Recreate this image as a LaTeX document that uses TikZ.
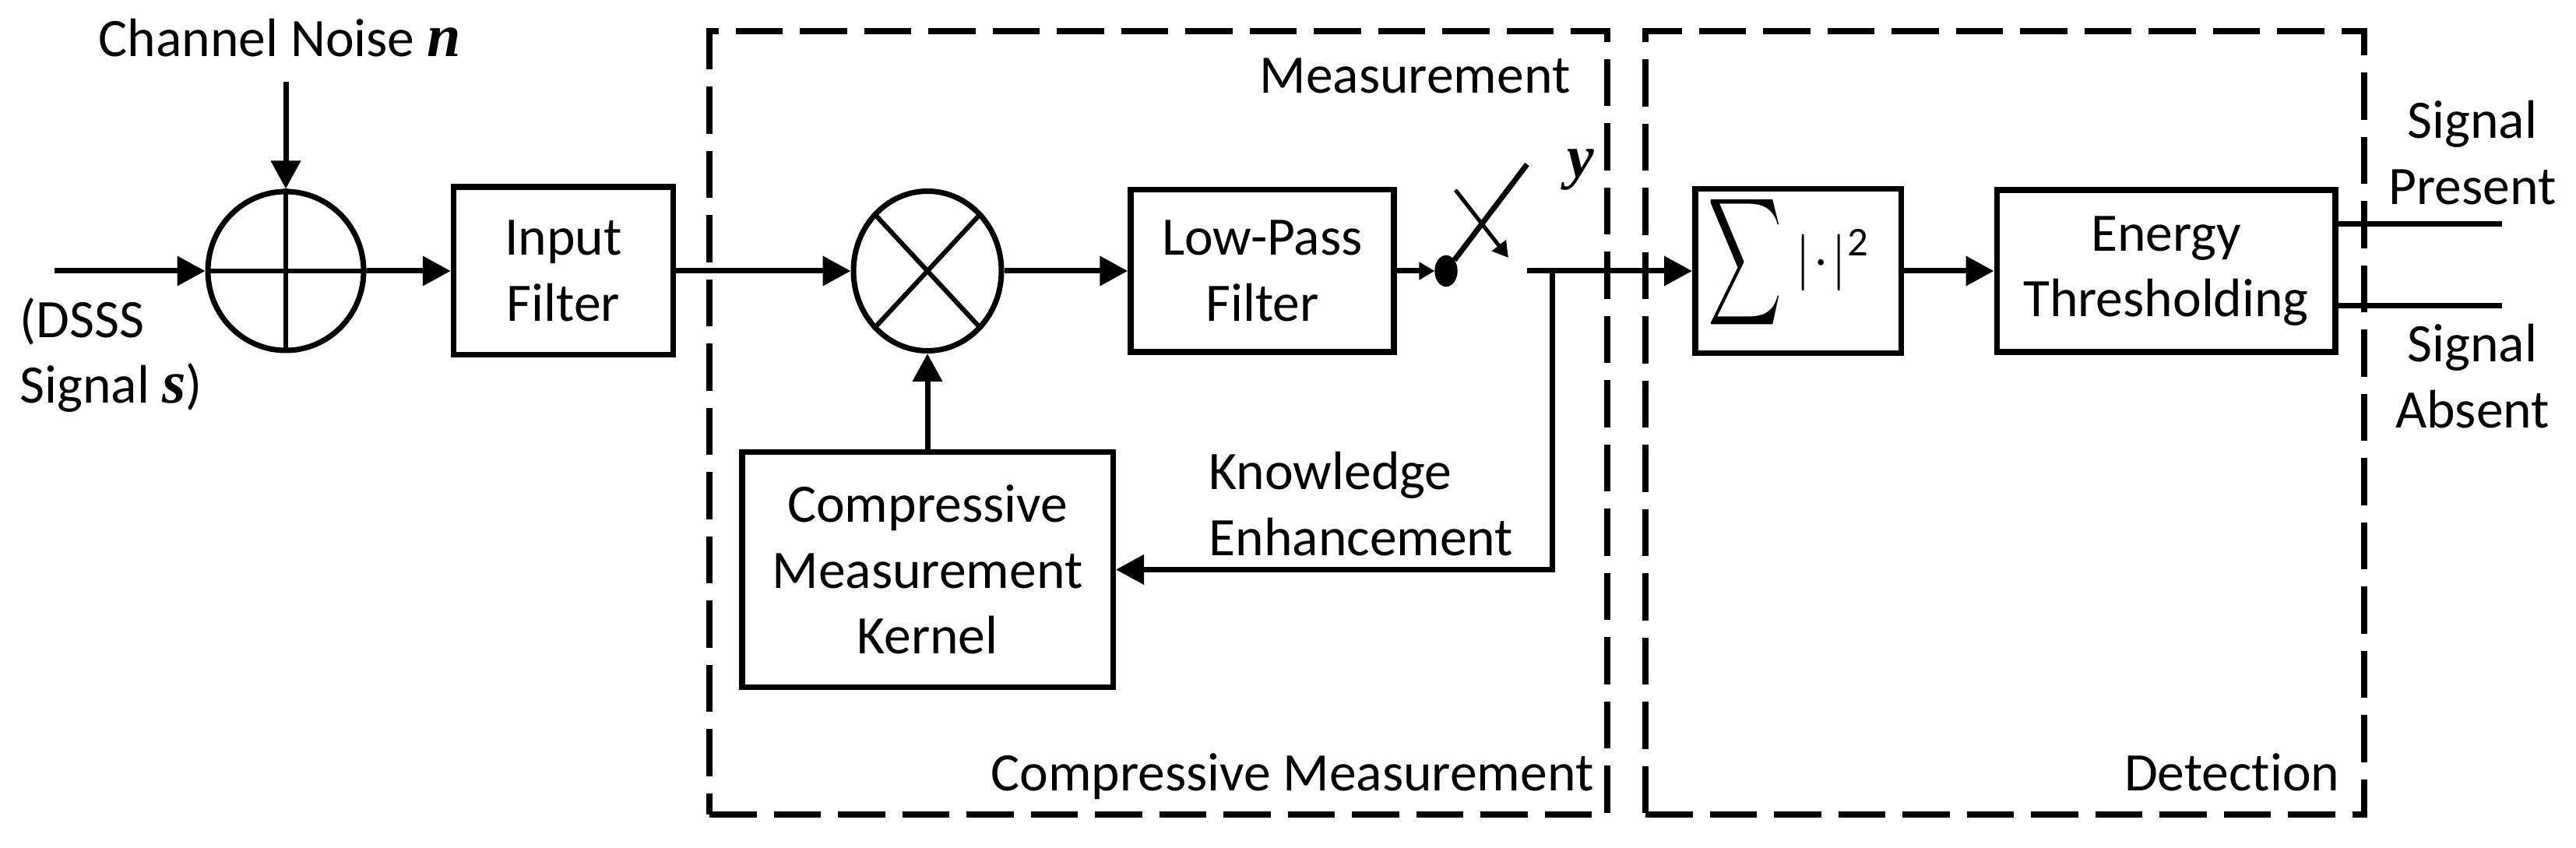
\documentclass[tikz,border=0pt]{standalone}
\usepackage{fontspec}
\usepackage{tikz}
\usetikzlibrary{arrows.meta,positioning,shapes.geometric}
\setmainfont[Ligatures=NoCommon]{Carlito}
\newfontfamily\varfont[Scale=1.12]{Liberation Serif}
\newcommand{\sigvar}[1]{{\varfont\bfseries\itshape #1}}
\tikzset{
  block/.style={draw=black,fill=none,line width=0.075cm,rectangle,align=center,
                inner sep=0pt,font=\fontsize{19.8}{24}\selectfont},
  junction/.style={draw=black,line width=0.07cm,ellipse,inner sep=0pt},
  region/.style={draw=black,line width=0.075cm,rectangle,inner sep=0pt,
                 dash pattern=on 0.605cm off 0.22cm},
  label/.style={align=center,inner sep=0pt,font=\fontsize{19.8}{24}\selectfont},
  wire/.style={line width=0.07cm,draw=black},
  arr/.style={-{Triangle[length=0.36cm,width=0.37cm]},line width=0.07cm,draw=black},
  smallarr/.style={-{Triangle[length=0.2cm,width=0.22cm]},line width=0.07cm,draw=black}
}
\begin{document}
\begin{tikzpicture}[x=1cm,y=1cm]
    \path[use as bounding box] (0,0) rectangle (33.08,10.88);
    \node[region,minimum width=11.53cm,minimum height=10.055cm] (cmregion) at (14.875,5.45) {};
    \node[region,minimum width=9.23cm,minimum height=10.055cm] (detregion) at (25.745,5.45) {};
    \node[junction,minimum width=2.00cm,minimum height=2.04cm] (adder) at (3.67,7.40) {};
    \node[block,minimum width=2.82cm,minimum height=2.155cm] (input) at (7.235,7.40) {Input\\Filter};
    \node[junction,minimum width=1.90cm,minimum height=2.05cm] (mixer) at (11.91,7.40) {};
    \node[block,minimum width=3.38cm,minimum height=2.085cm] (lowpass) at (16.21,7.40) {Low-Pass\\Filter};
    \node[block,minimum width=4.765cm,minimum height=3.015cm] (kernel) at (11.91,3.565) {Compressive\\Measurement\\Kernel};
    \node[draw=black,fill=black,ellipse,inner sep=0pt,minimum width=0.28cm,minimum height=0.39cm] (swdot) at (18.57,7.40) {};
    \node[block,minimum width=2.645cm,minimum height=2.11cm] (sumbox) at (23.09,7.40) {};
    \node[label] (sumop) at (22.97,7.51)
      {$\vcenter{\hbox{\resizebox{.95cm}{1.51cm}{$\displaystyle\sum$}}}\hspace{.17cm}|\mskip.8mu{\cdot}\mskip.8mu|^{\mbox{\fontsize{15}{15}\selectfont 2}}$};
    \node[block,minimum width=4.345cm,minimum height=2.08cm] (energy) at (27.815,7.40) {Energy\\Thresholding};
    % free ends
    \coordinate (sigin) at (0.70,7.40);
    \coordinate (noisein) at (3.67,9.83);
    \coordinate (armtip) at (19.61,8.77);
    \coordinate (crossa) at (18.69,8.44);
    \coordinate (crossb) at (19.37,7.57);
    \coordinate (swout) at (19.61,7.40);
    \coordinate (branch) at (19.93,7.40);
    \coordinate (present) at (32.13,8.00);
    \coordinate (absent) at (32.13,6.95);
    % symbols inside the junctions
    \draw[wire,line width=0.06cm] (adder.north) -- (adder.south);
    \draw[wire,line width=0.06cm] (adder.west) -- (adder.east);
    \draw[wire,line width=0.06cm] (mixer.north west) -- (mixer.south east);
    \draw[wire,line width=0.06cm] (mixer.south west) -- (mixer.north east);
    % connectors
    \draw[arr] (sigin) -- (adder.west);
    \draw[arr] (noisein) -- (adder.north);
    \draw[arr] (adder.east) -- (input.west);
    \draw[arr] (input.east) -- (mixer.west);
    \draw[arr] (mixer.east) -- (lowpass.west);
    \draw[arr] (kernel.north) -- (mixer.south);
    \draw[smallarr] (lowpass.east) -- (swdot.west);
    \draw[wire] (swdot) -- (armtip);
    \draw[smallarr,line width=0.05cm] (crossa) -- (crossb);
    \draw[arr] (swout) -- (sumbox.west);
    \draw[arr] (branch) |- (kernel.east);
    \draw[arr] (sumbox.east) -- (energy.west);
    \draw[wire] (energy.east |- present) -- (present);
    \draw[wire] (energy.east |- absent) -- (absent);
    % labels
    \node[label,anchor=base west] (noiselbl) at (1.26,10.15) {Channel Noise \sigvar{n}};
    \node[label,anchor=west,align=left] (dssslbl) at (0.25,6.32) {(DSSS\\Signal \sigvar{s})};
    \node[label,anchor=base] (ylbl) at (20.30,8.60) {\sigvar{y}};
    \node[label,anchor=base east] (measlbl) at (20.17,9.68) {Measurement};
    \node[label,anchor=west,align=left] (knowlbl) at (15.52,4.41) {Knowledge\\Enhancement};
    \node[label,anchor=base east] (cmlbl) at (20.47,0.73) {Compressive Measurement};
    \node[label,anchor=base east] (detlbl) at (30.05,0.73) {Detection};
    \node[label] (presentlbl) at (31.75,8.92) {Signal\\Present};
    \node[label] (absentlbl) at (31.75,6.05) {Signal\\Absent};
  \end{tikzpicture}
\end{document}
